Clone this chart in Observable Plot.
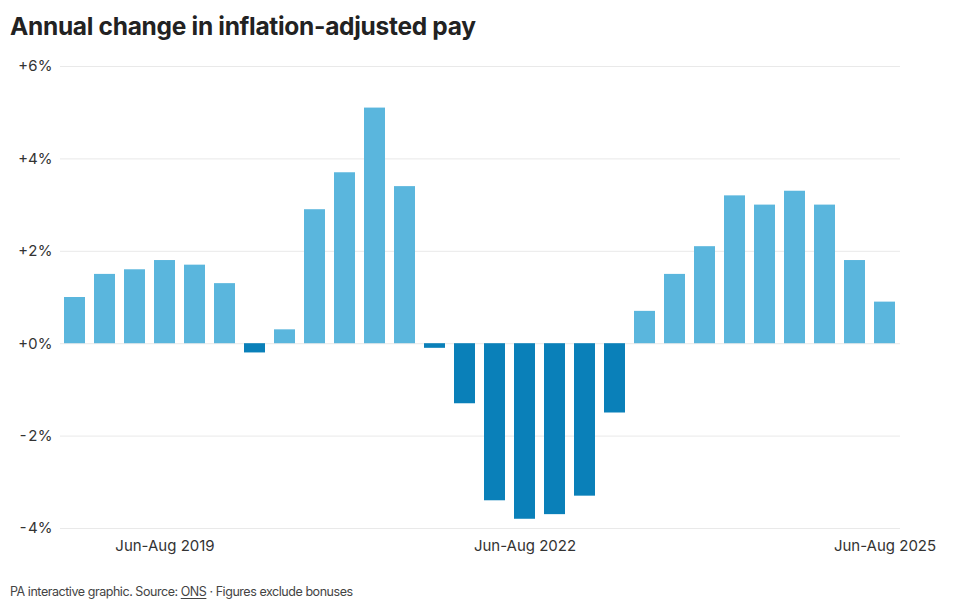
<!DOCTYPE html>
<html>
<head>
<meta charset="utf-8">
<script src="https://cdn.jsdelivr.net/npm/d3@7"></script>
<script src="https://cdn.jsdelivr.net/npm/@observablehq/plot@0.6"></script>
<style>
  body { margin: 0; background: #fff; font-family: Inter, "Noto Sans", sans-serif; }
  #title { position: absolute; left: 10px; top: 11px; font-size: 24.5px; font-weight: 700; color: #222; letter-spacing: -0.3px; }
  #chart { position: absolute; left: 0; top: 50px; }
  #caption { position: absolute; left: 10px; top: 584px; font-size: 12.5px; color: #444; letter-spacing: -0.45px; }
  #caption u { text-underline-offset: 2px; }
</style>
</head>
<body>
<div id="title">Annual change in inflation-adjusted pay</div>
<div id="chart"></div>
<div id="caption">PA interactive graphic. Source: <u>ONS</u> · Figures exclude bonuses</div>
<script>
const periods = [
  "Sep-Nov 2018","Dec-Feb 2019","Mar-May 2019","Jun-Aug 2019",
  "Sep-Nov 2019","Dec-Feb 2020","Mar-May 2020","Jun-Aug 2020",
  "Sep-Nov 2020","Dec-Feb 2021","Mar-May 2021","Jun-Aug 2021",
  "Sep-Nov 2021","Dec-Feb 2022","Mar-May 2022","Jun-Aug 2022",
  "Sep-Nov 2022","Dec-Feb 2023","Mar-May 2023","Jun-Aug 2023",
  "Sep-Nov 2023","Dec-Feb 2024","Mar-May 2024","Jun-Aug 2024",
  "Sep-Nov 2024","Dec-Feb 2025","Mar-May 2025","Jun-Aug 2025"
];
const change = [
  1.0, 1.5, 1.6, 1.8, 1.7, 1.3, -0.2, 0.3,
  2.9, 3.7, 5.1, 3.4, -0.1, -1.3, -3.4, -3.8,
  -3.7, -3.3, -1.5, 0.7, 1.5, 2.1, 3.2, 3.0,
  3.3, 3.0, 1.8, 0.9
];
const xTicks = ["Jun-Aug 2019", "Jun-Aug 2022", "Jun-Aug 2025"];
const yTicks = [-4, -2, 0, 2, 4, 6];
const posColor = "#5ab6dd";
const negColor = "#0a80b9";

const data = periods.map((p, i) => ({period: p, value: change[i]}));

const chart = Plot.plot({
  width: 960,
  height: 525,
  marginTop: 16,
  marginBottom: 47,
  marginLeft: 58,
  marginRight: 60,
  style: { fontFamily: "Inter, 'Noto Sans', sans-serif", fontSize: "15px", color: "#333", background: "#fff" },
  x: { domain: periods, paddingInner: 0.3, paddingOuter: 0.15, label: null },
  y: { domain: [-4, 6], label: null },
  marks: [
    Plot.ruleY(yTicks, { stroke: "#e9e9e9", strokeWidth: 1, insetLeft: 2 }),
    Plot.barY(data, { x: "period", y: "value", fill: d => d.value >= 0 ? posColor : negColor }),
    Plot.axisX({ ticks: xTicks, tickSize: 0, tickPadding: 12, fontSize: 15, fill: "#333", letterSpacing: "-0.3px" }),
    Plot.axisY({ ticks: yTicks, tickSize: 0, tickPadding: 6, fontSize: 15, fill: "#333", letterSpacing: "-0.3px",
                 tickFormat: d => (d >= 0 ? "+" : "-") + Math.abs(d) + "%" })
  ]
});
document.getElementById("chart").appendChild(chart);
</script>
</body>
</html>
